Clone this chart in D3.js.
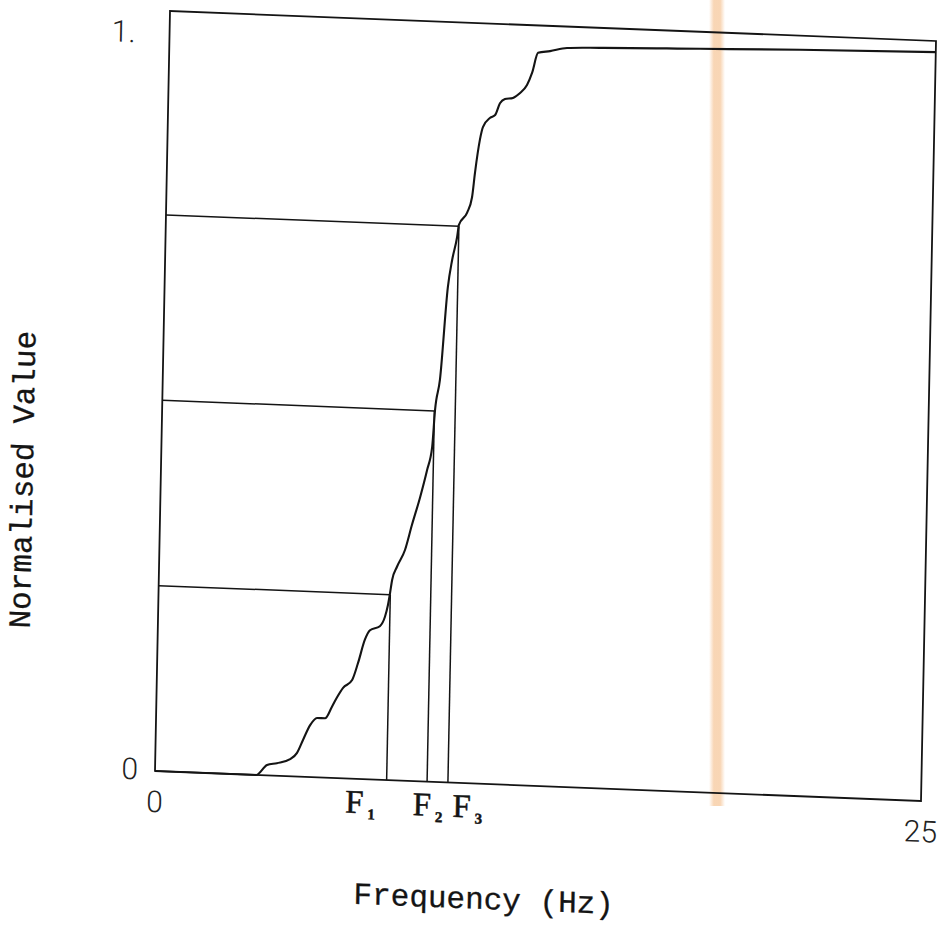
<!DOCTYPE html>
<html><head><meta charset="utf-8">
<script src="https://cdn.jsdelivr.net/npm/d3@7"></script>
<style>html,body{margin:0;padding:0;background:#fff;}</style>
</head><body>
<svg id="chart" width="943" height="931"></svg>
<script>
// ---- data ----
const freqHz = [0, 3.3, 3.65, 3.97, 4.40, 4.62, 4.81, 5.03, 5.25, 5.51, 5.73, 5.89, 6.08, 6.37, 6.55, 6.76, 6.92, 7.24, 7.40, 7.49, 7.55, 7.61, 7.76, 8.01, 8.22, 8.47, 8.68, 8.83, 8.90, 9.04, 9.24, 9.36, 9.51, 9.56, 9.82, 9.97, 10.05, 10.19, 10.28, 10.51, 10.67, 10.82, 10.98, 11.24, 11.47, 11.69, 11.85, 12.03, 12.42, 12.97, 14.05, 17.31, 20.57, 25];
const normValue = [0, 0, 0.014, 0.017, 0.023, 0.032, 0.050, 0.070, 0.080, 0.080, 0.096, 0.109, 0.122, 0.133, 0.156, 0.188, 0.201, 0.207, 0.220, 0.236, 0.252, 0.270, 0.288, 0.311, 0.345, 0.383, 0.420, 0.451, 0.501, 0.542, 0.668, 0.704, 0.736, 0.752, 0.769, 0.790, 0.823, 0.868, 0.885, 0.898, 0.902, 0.918, 0.924, 0.926, 0.933, 0.944, 0.961, 0.988, 0.991, 0.996, 0.998, 1.002, 1.006, 1.010];
const quartileLevels = [0.25, 0.5, 0.75];
const quartileFreqs = [7.56, 8.88, 9.56];
const quartileSubs = ["1", "2", "3"];
const xTicks = [0, 25];
const xTickLabels = ["0", "25"];
const yTicks = [0, 1];
const yTickLabels = ["0", "1."];
const xTitle = "Frequency (Hz)";
const yTitle = "Normalised Value";

// ---- layout (scan geometry) ----
const W = 766, H = 760;
const fNudge = [-41, -14, 5];
const yLabDx = [-17, -34], yLabDy = [9, 14];

const svg = d3.select("#chart");
const defs = svg.append("defs");
const grad = defs.append("linearGradient").attr("id", "stripe").attr("x1", 0).attr("x2", 1).attr("y1", 0).attr("y2", 0);
grad.append("stop").attr("offset", "0%").attr("stop-color", "#f6c89c").attr("stop-opacity", 0);
grad.append("stop").attr("offset", "30%").attr("stop-color", "#f6c89c").attr("stop-opacity", 0.75);
grad.append("stop").attr("offset", "70%").attr("stop-color", "#f6c89c").attr("stop-opacity", 0.75);
grad.append("stop").attr("offset", "100%").attr("stop-color", "#f6c89c").attr("stop-opacity", 0);

svg.append("rect").attr("width", 943).attr("height", 931).attr("fill", "#fff");
// scanner stripe
svg.append("rect").attr("x", 709).attr("y", 0).attr("width", 16).attr("height", 806)
  .attr("fill", "url(#stripe)");

const g = svg.append("g").attr("transform", "matrix(1,0.03916,-0.01974,1,170,11)");

const x = d3.scaleLinear().domain([0, 25]).range([0, W]);
const y = d3.scaleLinear().domain([0, 1.025]).range([H, 0]);

const ink = "#141414";
g.append("rect").attr("x", 0).attr("y", 0).attr("width", W).attr("height", H)
  .attr("fill", "none").attr("stroke", ink).attr("stroke-width", 1.8);

quartileLevels.forEach((lv, i) => {
  g.append("line").attr("x1", x(0)).attr("x2", x(quartileFreqs[i]))
    .attr("y1", y(lv)).attr("y2", y(lv)).attr("stroke", ink).attr("stroke-width", 1.5);
  g.append("line").attr("x1", x(quartileFreqs[i])).attr("x2", x(quartileFreqs[i]))
    .attr("y1", y(0)).attr("y2", y(lv)).attr("stroke", ink).attr("stroke-width", 1.5);
});

const pts = freqHz.map((f, i) => [f, normValue[i]]);
g.append("path").datum(pts)
  .attr("d", d3.line().x(d => x(d[0])).y(d => y(d[1])).curve(d3.curveMonotoneX))
  .attr("fill", "none").attr("stroke", ink).attr("stroke-width", 2.1);

const tickFont = "Roboto, 'Liberation Sans', sans-serif";
xTicks.forEach((t, i) => {
  g.append("text").attr("x", x(t)).attr("y", H + 41).attr("text-anchor", "middle")
    .attr("font-family", tickFont).attr("font-weight", 300).attr("font-size", 30)
    .attr("fill", "#222").text(xTickLabels[i]);
});
yTicks.forEach((t, i) => {
  g.append("text").attr("x", yLabDx[i]).attr("y", y(t) + yLabDy[i]).attr("text-anchor", "end")
    .attr("font-family", tickFont).attr("font-weight", 300).attr("font-size", 30)
    .attr("fill", "#222").text(yTickLabels[i]);
});

quartileFreqs.forEach((f, i) => {
  const t = g.append("text").attr("x", x(f) + fNudge[i]).attr("y", H + 34)
    .attr("font-family", "'Liberation Serif', serif").attr("font-size", 33).attr("fill", ink)
    .attr("stroke", ink).attr("stroke-width", 0.5);
  t.append("tspan").text("F");
  t.append("tspan").attr("dx", 4).attr("dy", 6).attr("font-size", 15).attr("font-weight", "bold").text(quartileSubs[i]);
});

const monoFont = "'Liberation Mono', 'DejaVu Sans Mono', monospace";
g.append("text").attr("x", 331).attr("y", 885).attr("text-anchor", "middle")
  .attr("font-family", monoFont).attr("font-size", 31).attr("fill", ink)
  .attr("stroke", ink).attr("stroke-width", 0.3).text(xTitle);
g.append("text").attr("transform", "translate(-128,474) rotate(-90)").attr("text-anchor", "middle")
  .attr("font-family", monoFont).attr("font-size", 31).attr("fill", ink)
  .attr("stroke", ink).attr("stroke-width", 0.3).text(yTitle);
</script>
</body></html>
